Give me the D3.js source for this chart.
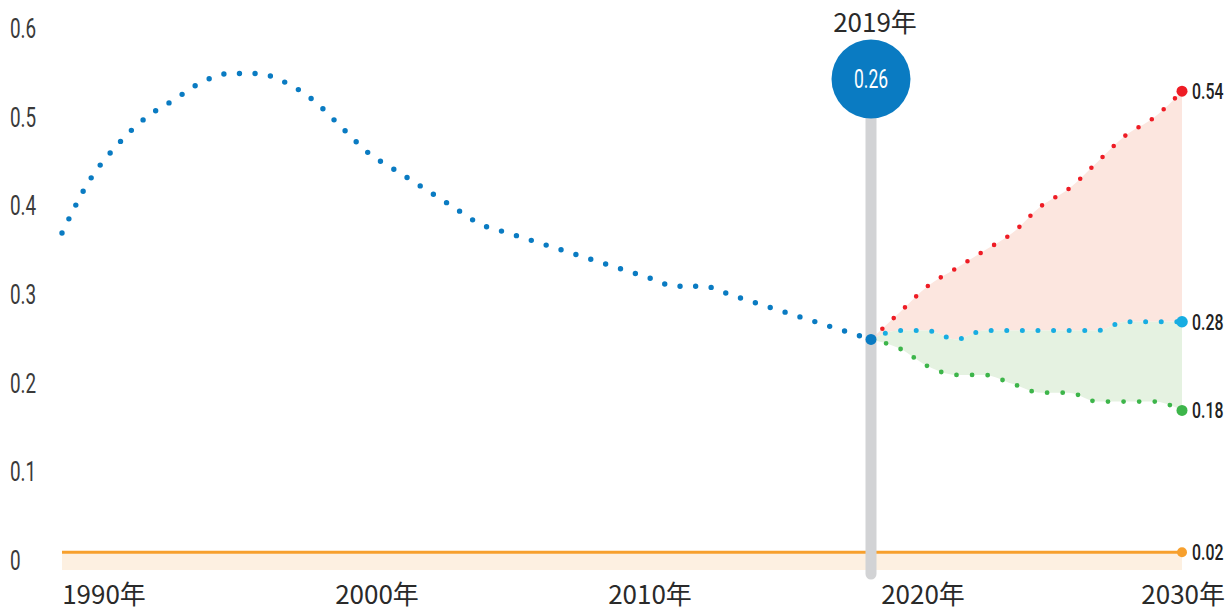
<!DOCTYPE html>
<html>
<head>
<meta charset="utf-8">
<script src="https://cdn.jsdelivr.net/npm/d3@7"></script>
<style>
  body { margin: 0; background: #fff; }
  svg { display: block; }
  .narrow { font-family: Roboto, "DejaVu Sans", sans-serif; }
  .cjk { font-family: "Noto Sans CJK JP", "Noto Sans", sans-serif; }
</style>
</head>
<body>
<div id="chart-area"></div>
<script>
// data
const histYears = d3.range(1990, 2020);
const histValues = [0.38, 0.44, 0.48, 0.51, 0.53, 0.55, 0.56, 0.56, 0.55, 0.53,
                    0.50, 0.47, 0.45, 0.43, 0.41, 0.39, 0.38, 0.37, 0.36, 0.35,
                    0.34, 0.33, 0.32, 0.32, 0.31, 0.30, 0.29, 0.28, 0.27, 0.26];
const projYears = d3.range(2019, 2031);
const highValues = [0.26, 0.29, 0.32, 0.34, 0.36, 0.38, 0.41, 0.43, 0.46, 0.49, 0.51, 0.54];
const midValues  = [0.26, 0.27, 0.27, 0.26, 0.27, 0.27, 0.27, 0.27, 0.27, 0.28, 0.28, 0.28];
const lowValues  = [0.26, 0.25, 0.23, 0.22, 0.22, 0.21, 0.20, 0.20, 0.19, 0.19, 0.19, 0.18];
const baseYears = [1990, 2030];
const baseValues = [0.02, 0.02];
const yTicks = [0, 0.1, 0.2, 0.3, 0.4, 0.5, 0.6];
const xTickLabels = ["1990年", "2000年", "2010年", "2020年", "2030年"];
const markYear = 2019;
const markLabel = "2019年";

const width = 1227, height = 611;

const svg = d3.select("#chart-area")
  .append("svg")
    .attr("width", width)
    .attr("height", height);

const x = d3.scaleLinear()
  .domain([1990, 2019, 2030])
  .range([62, 871, 1182]);

const y = d3.scaleLinear()
  .domain([0, 0.6])
  .range([570, 38]);

const labelX = d3.scalePoint()
  .domain(xTickLabels)
  .range([104, 1196]);

const hist = histYears.map((yr, i) => ({ year: yr, v: histValues[i] }));
const proj = projYears.map((yr, i) => ({ year: yr, hi: highValues[i], mid: midValues[i], lo: lowValues[i] }));
const base = baseYears.map((yr, i) => ({ year: yr, v: baseValues[i] }));

const curve = d3.curveMonotoneX;

// condensed look: squeeze text horizontally
const squeeze = (tx, ty, s) => `translate(${tx},${ty}) scale(${s},1)`;

// areas
svg.append("path")
    .datum(proj)
    .attr("fill", "#fce6df")
    .attr("d", d3.area().curve(curve)
      .x(d => x(d.year)).y0(d => y(d.mid)).y1(d => y(d.hi)));

svg.append("path")
    .datum(proj)
    .attr("fill", "#e5f2e1")
    .attr("d", d3.area().curve(curve)
      .x(d => x(d.year)).y0(d => y(d.lo)).y1(d => y(d.mid)));

svg.append("path")
    .datum(base)
    .attr("fill", "#fdf0e1")
    .attr("d", d3.area()
      .x(d => x(d.year)).y0(y(0)).y1(d => y(d.v)));

svg.append("path")
    .datum(base)
    .attr("fill", "none")
    .attr("stroke", "#f7a02d")
    .attr("stroke-width", 3)
    .attr("d", d3.line().x(d => x(d.year)).y(d => y(d.v)));

// y labels
svg.append("g")
  .selectAll("text")
  .data(yTicks)
  .join("text")
    .attr("class", "narrow")
    .attr("transform", d => squeeze(10, y(d), 0.7))
    .attr("fill", "#3a3a3a")
    .style("font-size", "27px")
    .text(d => d === 0 ? "0" : d3.format(".1f")(d));

// x labels
svg.append("g")
  .selectAll("text")
  .data(xTickLabels)
  .join("text")
    .attr("class", "cjk")
    .attr("x", (d, i) => i === xTickLabels.length - 1 ? width - 2 : labelX(d))
    .attr("y", 604)
    .attr("text-anchor", (d, i) => i === xTickLabels.length - 1 ? "end" : "middle")
    .attr("fill", "#2a2a2a")
    .style("font-size", "26px")
    .text(d => d);

// marker for 2019
const mx = x(markYear);
svg.append("line")
    .attr("x1", mx).attr("x2", mx)
    .attr("y1", 100).attr("y2", 574)
    .attr("stroke", "#d2d3d5")
    .attr("stroke-width", 11)
    .attr("stroke-linecap", "round");

svg.append("circle")
    .attr("cx", mx).attr("cy", 79).attr("r", 39.5)
    .attr("fill", "#0a7bc2");

svg.append("text")
    .attr("class", "narrow")
    .attr("transform", squeeze(mx, 79, 0.7))
    .attr("dy", "0.36em")
    .attr("text-anchor", "middle")
    .attr("fill", "#fff")
    .style("font-size", "25px")
    .text(d3.format(".2f")(histValues[histValues.length - 1]));

svg.append("text")
    .attr("class", "cjk")
    .attr("x", mx + 4).attr("y", 32)
    .attr("text-anchor", "middle")
    .attr("fill", "#2a2a2a")
    .style("font-size", "26px")
    .text(markLabel);

// dotted lines
function dotted(data, key, color, w) {
  svg.append("path")
      .datum(data)
      .attr("fill", "none")
      .attr("stroke", color)
      .attr("stroke-width", w)
      .attr("stroke-linecap", "round")
      .attr("stroke-dasharray", "0 15.6")
      .attr("d", d3.line().curve(curve).x(d => x(d.year)).y(d => y(d[key])));
}
dotted(proj, "hi", "#ee1c25", 4.6);
dotted(proj, "lo", "#3db54a", 4.8);
dotted(proj, "mid", "#17ade2", 5);
dotted(hist, "v", "#0a7bc2", 5.4);

// end points
const ends = [
  { v: highValues[highValues.length - 1], color: "#ee1c25", r: 5.5 },
  { v: midValues[midValues.length - 1], color: "#17ade2", r: 5.8 },
  { v: lowValues[lowValues.length - 1], color: "#3db54a", r: 5.5 },
  { v: baseValues[baseValues.length - 1], color: "#f7a02d", r: 5 }
];
const endX = x(2030);
svg.append("g")
  .selectAll("circle")
  .data(ends)
  .join("circle")
    .attr("cx", endX)
    .attr("cy", d => y(d.v))
    .attr("r", d => d.r)
    .attr("fill", d => d.color);

svg.append("g")
  .selectAll("text")
  .data(ends)
  .join("text")
    .attr("class", "narrow")
    .attr("transform", d => squeeze(endX + 10, y(d.v), 0.72))
    .attr("dy", "0.36em")
    .attr("fill", "#222")
    .style("font-size", "22px")
    .style("font-weight", 500)
    .text(d => d3.format(".2f")(d.v));

svg.append("circle")
    .attr("cx", mx)
    .attr("cy", y(histValues[histValues.length - 1]))
    .attr("r", 5.5)
    .attr("fill", "#0a7bc2");
</script>
</body>
</html>
